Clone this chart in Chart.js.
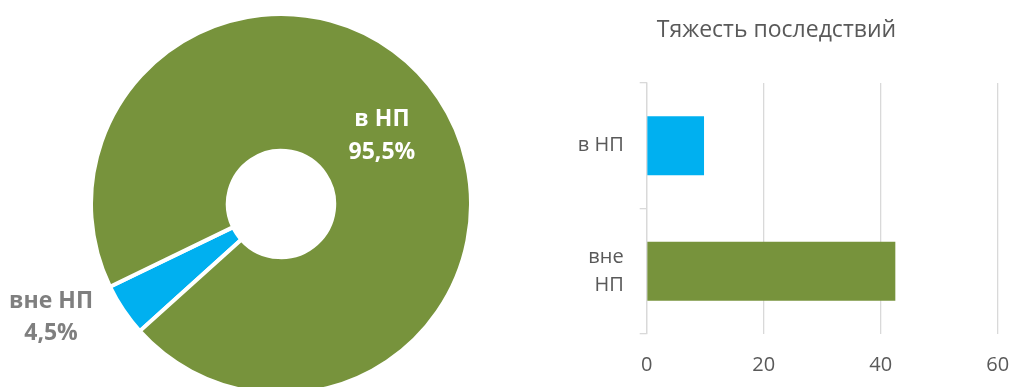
<!DOCTYPE html>
<html lang="ru">
<head>
<meta charset="utf-8">
<title>Тяжесть последствий</title>
<script src="https://cdn.jsdelivr.net/npm/chart.js@4/dist/chart.umd.min.js"></script>
<style>
  html, body { margin: 0; padding: 0; width: 1013px; height: 387px; overflow: hidden; background: #ffffff; }
  .box { position: absolute; }
  #shareBox { left: 0; top: 12px; width: 562px; height: 384px; }
  #severityBox { left: 540px; top: 0; width: 473px; height: 387px; }
</style>
</head>
<body>
<div id="shareBox" class="box"><canvas id="share"></canvas></div>
<div id="severityBox" class="box"><canvas id="severity"></canvas></div>
<script>
// Доля ДТП по месту совершения, %
const shareLabels = ['вне НП', 'в НП'];
const shareValues = [4.5, 95.5];

// Тяжесть последствий по месту совершения
const severityCategories = ['в НП', ['вне', 'НП']];
const severityValues = [9.8, 42.5];
const severityTicks = [0, 20, 40, 60];

const GREEN = '#77933C';
const BLUE = '#00B0F0';
const TEXT = '#595959';
const GRID = '#D9D9D9';
const FONT = '"Open Sans", "DejaVu Sans", sans-serif';

const fmtPct = v => v.toFixed(1).replace('.', ',') + '%';

// Подписи секторов: внутри сектора или снаружи кольца
const sliceLabels = {
  id: 'sliceLabels',
  afterDatasetsDraw(chart, args, opts) {
    const ctx = chart.ctx;
    const meta = chart.getDatasetMeta(0);
    meta.data.forEach((arc, i) => {
      const p = arc.getProps(['x', 'y', 'startAngle', 'endAngle', 'innerRadius', 'outerRadius'], true);
      const place = opts.placement[i];
      const mid = (p.startAngle + p.endAngle) / 2 + place.angleShift * Math.PI / 180;
      const r = place.outside
        ? p.outerRadius * place.radius
        : (p.innerRadius + p.outerRadius) / 2;
      const cx = p.x + Math.cos(mid) * r;
      const cy = p.y + Math.sin(mid) * r;
      const lines = [chart.data.labels[i], fmtPct(chart.data.datasets[0].data[i])];
      ctx.save();
      ctx.font = 'bold ' + opts.size + 'px ' + FONT;
      ctx.fillStyle = place.color;
      ctx.textAlign = 'center';
      ctx.textBaseline = 'middle';
      lines.forEach((t, k) => {
        ctx.fillText(t, cx, cy + (k - (lines.length - 1) / 2) * place.lineStep);
      });
      ctx.restore();
    });
  }
};

new Chart(document.getElementById('share'), {
  type: 'doughnut',
  data: {
    labels: shareLabels,
    datasets: [{
      data: shareValues,
      backgroundColor: [BLUE, GREEN],
      borderColor: '#ffffff',
      borderWidth: 4
    }]
  },
  options: {
    responsive: true,
    maintainAspectRatio: false,
    animation: false,
    cutout: '28%',
    rotation: 228,
    layout: { padding: 0 },
    plugins: {
      legend: { display: false },
      tooltip: { enabled: false },
      sliceLabels: {
        size: 23,
        placement: [
          { outside: true, radius: 1.35, angleShift: 7.6, color: '#7F7F7F', lineStep: 32 },
          { outside: false, radius: 1, angleShift: 0, color: '#FFFFFF', lineStep: 33 }
        ]
      }
    }
  },
  plugins: [sliceLabels]
});

new Chart(document.getElementById('severity'), {
  type: 'bar',
  data: {
    labels: severityCategories,
    datasets: [{
      data: severityValues,
      backgroundColor: [BLUE, GREEN],
      barPercentage: 0.47,
      categoryPercentage: 1
    }]
  },
  options: {
    indexAxis: 'y',
    responsive: true,
    maintainAspectRatio: false,
    animation: false,
    layout: { padding: { left: 15.3, right: 15.3, top: 0, bottom: 0 } },
    plugins: {
      legend: { display: false },
      tooltip: { enabled: false },
      title: {
        display: true,
        text: 'Тяжесть последствий',
        color: TEXT,
        font: { family: FONT, size: 23, weight: 'normal', lineHeight: 1.2 },
        padding: { top: 16.5, bottom: 38.9 }
      }
    },
    scales: {
      x: {
        min: severityTicks[0],
        max: severityTicks[severityTicks.length - 1],
        afterBuildTicks(scale) { scale.ticks = severityTicks.map(v => ({ value: v })); },
        afterFit(scale) { scale.height = 53; },
        ticks: { color: TEXT, font: { family: FONT, size: 20, lineHeight: 1.2 }, padding: 0 },
        grid: { color: GRID, lineWidth: 1.3, drawTicks: true, tickLength: 19, tickColor: 'rgba(0,0,0,0)' },
        border: { display: false }
      },
      y: {
        afterFit(scale) { scale.width = 91.4; },
        ticks: { color: TEXT, font: { family: FONT, size: 20, lineHeight: 1.4 }, padding: 16 },
        grid: { color: GRID, lineWidth: 1.3, drawOnChartArea: false, drawTicks: true, tickLength: 7, offset: true },
        border: { display: true, color: GRID, width: 1.3 }
      }
    }
  }
});
</script>
</body>
</html>
